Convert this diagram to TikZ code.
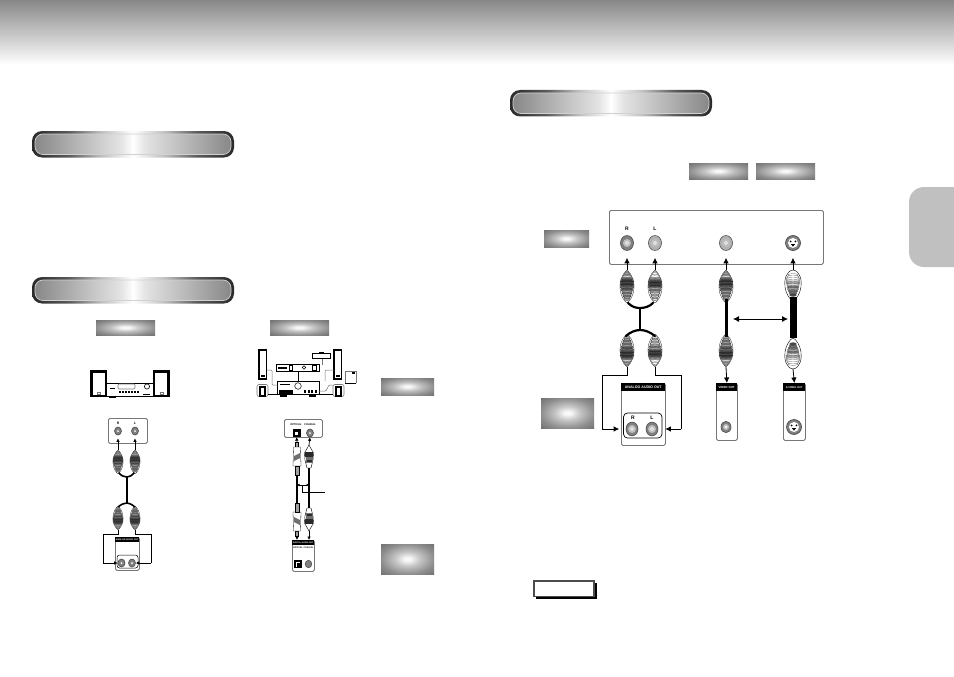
\documentclass[tikz,border=0pt]{standalone}
\usepackage{fontspec}
\setmainfont{Liberation Sans}
\usetikzlibrary{arrows.meta,shapes.geometric}
\definecolor{tabgray}{HTML}{C0C0C0}
\definecolor{hdrgray}{HTML}{888888}
\definecolor{pa}{HTML}{888888}\definecolor{pb}{HTML}{E4E4E4}
\definecolor{ra}{HTML}{2A2A2A}\definecolor{rb}{HTML}{5A5A5A}\definecolor{rc}{HTML}{BEBEBE}
\definecolor{ga}{HTML}{F8F8F8}\definecolor{gd}{HTML}{C4C4C4}\definecolor{gb}{HTML}{8E8E8E}\definecolor{gc}{HTML}{707070}
\definecolor{linegray}{HTML}{777777}
\definecolor{plugA}{HTML}{D8D8D8}\definecolor{plugB}{HTML}{A0A0A0}\definecolor{plugC}{HTML}{707070}\definecolor{plugD}{HTML}{484848}\definecolor{plugE}{HTML}{2A2A2A}
\pgfdeclarehorizontalshading{pillin}{100bp}{color(0bp)=(pa); color(25bp)=(pa); color(47bp)=(pb); color(50bp)=(white); color(53bp)=(pb); color(75bp)=(pa); color(100bp)=(pa)}
\pgfdeclarehorizontalshading{pillout}{100bp}{color(0bp)=(ra); color(25bp)=(ra); color(34bp)=(rb); color(42bp)=(rc); color(50bp)=(white); color(58bp)=(rc); color(66bp)=(rb); color(75bp)=(ra); color(100bp)=(ra)}
\pgfdeclareradialshading{glow}{\pgfpoint{0bp}{0bp}}{color(0bp)=(ga); color(3bp)=(ga); color(12bp)=(gd); color(25bp)=(gb); color(36bp)=(gc); color(50bp)=(gc)}
\tikzset{
  x=1pt,y=-1pt,
  swatch/.style={shading=glow},
  conn/.style={-{Latex[length=5.5pt,width=5.5pt]},line width=.8pt,black},
  tinyconn/.style={-{Latex[length=3.5pt,width=3.5pt]},line width=.6pt,black},
  dblconn/.style={{Latex[length=6pt,width=6pt]}-{Latex[length=6pt,width=6pt]},line width=.8pt,black},
  wire/.style={line width=.8pt,black},
  panel/.style={draw=linegray,line width=.8pt,fill=white,rounded corners=1.5pt,inner sep=0pt,anchor=north west},
  hdr/.style={fill=black,text=white,inner sep=0pt,anchor=north west,font=\fontsize{3.6}{4}\selectfont\bfseries},
  lab/.style={inner sep=0pt,font=\fontsize{3.4}{4}\selectfont\bfseries},
  lablarge/.style={inner sep=0pt,font=\fontsize{5}{5}\selectfont\bfseries},
  pill/.style={shading=pillout,rounded corners=10pt},
  pillinner/.style={shading=pillin,draw=white!82!black,line width=.7pt,rounded corners=8pt},
  portnode/.style={ellipse,draw=black!70,line width=.6pt,fill=black!50,inner sep=0pt,minimum width=#1,minimum height=1.15*#1},
  rca/.pic={
    \coordinate (-tip) at (0,0); \coordinate (-tail) at (0,33);
    \draw[line width=.25pt,fill=white] (0,0) .. controls (-5,4) and (-7.5,12) .. (-7,18) .. controls (-6.5,26) and (-3,31) .. (0,33) .. controls (3,31) and (6.5,26) .. (7,18) .. controls (7.5,12) and (5,4) .. (0,0) -- cycle;
    \foreach \yy/\rx/\cc in {2.5/2/plugB,4/3/plugB,5.5/4.2/plugB,7/5.2/plugA,8.5/6/plugC,10/6.6/plugD,11.5/7/plugE,13/7/plugD,14.5/7/plugE,16/7/plugD,17.5/6.8/plugC,19/6.4/plugD,20.5/6/plugC,22/5.5/plugB,23.5/5/plugC,25/4.5/plugB,26.5/4/plugC,28/3.2/plugB,29.5/2.4/plugB}
      \filldraw[draw=black!80,line width=.2pt,fill=\cc] (0,\yy) ellipse[x radius=\rx,y radius=1.2];
  },
  rcalight/.pic={
    \coordinate (-tip) at (0,0); \coordinate (-tail) at (0,33);
    \draw[line width=.25pt,fill=white] (0,0) .. controls (-5,4) and (-7.5,12) .. (-7,18) .. controls (-6.5,26) and (-3,31) .. (0,33) .. controls (3,31) and (6.5,26) .. (7,18) .. controls (7.5,12) and (5,4) .. (0,0) -- cycle;
    \foreach \yy/\rx/\cc in {2.5/2/plugA,4/3/white,5.5/4.2/white,7/5.2/white,8.5/6/plugB,10/6.6/plugC,11.5/7/plugD,13/7/plugE,14.5/7/plugD,16/7/plugE,17.5/6.8/plugC,19/6.4/plugB,20.5/6/plugC,22/5.5/plugB,23.5/5/plugA,25/4.5/plugB,26.5/4/plugA,28/3.2/plugB,29.5/2.4/plugA}
      \filldraw[draw=black!80,line width=.2pt,fill=\cc] (0,\yy) ellipse[x radius=\rx,y radius=1.2];
  },
  svid/.pic={
    \coordinate (-tip) at (0,0); \coordinate (-tail) at (0,31);
    \draw[line width=.4pt,fill=white] (0,0) .. controls (-7,1) and (-9,10) .. (-8,17) .. controls (-7,24) and (-3,30) .. (0,31) .. controls (3,30) and (7,24) .. (8,17) .. controls (9,10) and (7,1) .. (0,0) -- cycle;
    \foreach \yy/\rx/\cc in {5/5/white,7/6.5/white,9/7/white,11/7/plugA,13/7/plugB,15/6.5/plugA,17/6.2/plugC,19/5.8/plugB,21/5/plugC,23/4/plugC,25/3.5/plugD}
      \filldraw[draw=black!80,line width=.2pt,fill=\cc] (0,\yy) ellipse[x radius=\rx,y radius=1.4];
  },
  optplug/.pic={
    \coordinate (-tip) at (0,0); \coordinate (-tail) at (0,33);
    \draw[line width=.3pt,fill=plugB] (-1.5,0) rectangle (1.5,5);
    \draw[line width=.3pt,fill=white] (-3.5,5) -- (3.5,5) -- (4,24) -- (-4,24) -- cycle;
    \fill[plugC] (-3,14) -- (3,11) -- (3,16) -- (-3,19) -- cycle;
    \draw[line width=.3pt,fill=plugB] (-2,24) rectangle (2,33);
  },
  coaxplug/.pic={
    \coordinate (-tip) at (0,0); \coordinate (-tail) at (0,23);
    \draw[line width=.4pt,fill=white] (0,0) -- (-4.5,8) -- (-4,15) -- (-2,23) -- (2,23) -- (4,15) -- (4.5,8) -- cycle;
    \fill[plugE] (-4,7) rectangle (4,12);
    \fill[plugC] (-3.5,12) rectangle (3.5,18);
    \fill[plugE] (-2.5,15) rectangle (2.5,17);
  }
}
\newcommand{\jackdot}[1]{\fill[black!25] (#1.center) circle (4);\fill[white] (#1.center) circle (1.8);\fill[black!55] (#1.center) circle (.7);}
\newcommand{\svjack}[2]{%
  \node[circle,draw=black!75,fill=black!50,line width=.6pt,inner sep=0pt,minimum size=15pt] (#1) at (#2) {};
  \fill[white] (#1.center) circle (5);
  \fill[black] (#1.center) ++(-2.4,-1.6) circle (1) ++(4.8,0) circle (1);
  \fill[black] (#1.center) ++(-2.2,1) -- ++(4.4,0) -- ++(-2.2,2.6) -- cycle;}
\begin{document}
\begin{tikzpicture}
\useasboundingbox (0,0) rectangle (954,677);
\fill[white] (0,0) rectangle (954,677);
% header band and side tab
\shade[top color=hdrgray,bottom color=white] (0,0) rectangle (954,65);
\fill[tabgray] (954,187) [rounded corners=15pt] -- (909,187) -- (909,267) [sharp corners] -- (954,267) -- cycle;
% title pills
\foreach \xa/\ya in {32/131,32/277,510/90}{
  \shade[pill] (\xa,\ya) rectangle ++(202,26.5);
  \shadedraw[pillinner] (\xa+3,\ya+3) rectangle ++(196,20.5);
}
% label swatches
\foreach \xa/\ya/\xb/\yb in {96/320/155/335,270/320/329/335,381/378/434/395,381/544/434/574,544/230/589/247,541/398/594/428,689/163/748/179,756/163/815/179}
  \shade[swatch] (\xa,\ya) rectangle (\xb,\yb);
% note box
\fill[black] (536,583) rectangle (597,599);
\draw[draw=black!70,fill=white,line width=1.4pt] (534,581) rectangle (594,596.5);

%%% RIGHT BLOCK
\node[panel,minimum width=214pt,minimum height=54pt] (tv) at (609,210) {};
\node[lablarge] (lr) at (627,229) {R};
\node[lablarge] (ll) at (655,229) {L};
\node[portnode=13pt] (pR) at (627,243) {}; \jackdot{pR}
\node[portnode=13pt,fill=black!30] (pL) at (655,243) {}; \jackdot{pL}
\node[portnode=13pt,fill=black!30] (pV) at (726,243) {}; \jackdot{pV}
\svjack{pS}{793,243}
% upper plugs
\pic (uR) at (627,270) {rca};
\pic (uL) at (655,270) {rcalight};
\pic (uV) at (726,270) {rca};
\pic (uS) at (793,270) {svid};
% lower plugs
\pic[yscale=-1] (dR) at (627,367) {rca};
\pic[yscale=-1] (dL) at (655,367) {rcalight};
\pic[yscale=-1] (dV) at (726,367) {rca};
\pic[yscale=-1] (dS) at (793,369) {svid};
% Y cable
\coordinate (jt) at (640,308); \coordinate (jb) at (640,330);
\draw[line width=2.2pt,line cap=round] (628,303) .. controls (632,307) and (636,308) .. (jt) .. controls (644,308) and (649,307) .. (653,303);
\draw[line width=2.2pt] (jt) -- (jb);
\draw[line width=2.2pt,line cap=round] (626,336) .. controls (630,332) and (636,330) .. (jb) .. controls (645,330) and (650,332) .. (655,336);
\draw[line width=3pt] (726,299) -- (726,337);
\draw[line width=7pt] (793,297) -- (793,338);
% up arrows
\foreach \a/\b in {uR/pR,uL/pL,uV/pV,uS/pS}
  \draw[conn,shorten >=7pt] (\a-tip) -- (\b.south);
\draw[dblconn] (733,319) -- (788,319);
% output panels
\node[panel,minimum width=44pt,minimum height=62pt] (aout) at (621,383) {};
\node[hdr,minimum width=44pt,minimum height=8pt] (aouth) at (621,383) {ANALOG AUDIO OUT};
\draw[line width=.7pt,rounded corners=4pt] (623.5,413) rectangle (662,438);
\node[lablarge] (aR) at (633,418) {R};
\node[lablarge] (aL) at (652,418) {L};
\node[portnode=12pt] (paR) at (632,429) {}; \jackdot{paR}
\node[portnode=12pt] (paL) at (652,429) {}; \jackdot{paL}
\node[panel,minimum width=21pt,minimum height=57pt] (vout) at (716,383) {};
\node[hdr,minimum width=21pt,minimum height=8pt,font=\fontsize{2.9}{3}\selectfont\bfseries] (vouth) at (716,383) {VIDEO OUT};
\node[portnode=10pt] (pvo) at (726,427) {}; \fill[black!25] (pvo.center) circle (3); \fill[white] (pvo.center) circle (1.3);
\node[panel,minimum width=22pt,minimum height=57pt] (sout) at (783,383) {};
\node[hdr,minimum width=22pt,minimum height=8pt,font=\fontsize{2.6}{3}\selectfont\bfseries] (south) at (783,383) {S-VIDEO OUT};
\svjack{pso}{794,427}
\draw[conn] (dV-tip) -- (vout.north);
\draw[conn] (dS-tip) -- (sout.north);
\draw[wire] (dR-tip) -- (627,375) -- (602,375) -- (602,429);
\draw[conn] (602,429) -- ([xshift=-6.5pt]paR.west);
\draw[wire] (dL-tip) -- (655,375) -- (681,375) -- (681,429);
\draw[conn] (681,429) -- ([xshift=7pt]paL.east);

%%% LEFT BLOCK: stereo
\draw[line width=2.6pt,fill=white] (91.5,371.5) rectangle (106,396);
\draw[line width=2.6pt,fill=white] (154,371.5) rectangle (168.5,396);
\draw[linegray,line width=.5pt] (97,392.5) rectangle (100,394);
\draw[linegray,line width=.5pt] (160,392.5) rectangle (163,394);
\draw[line width=.7pt] (107,383) -- (153,383);
\draw[line width=.7pt] (107,396) -- (153,396);
\draw[linegray,line width=.7pt,rounded corners=1pt] (118,384) rectangle (135,389);
\draw[line width=.6pt] (147,386.5) circle (2.6);
\fill[black] (110,387.5) rectangle (115,389);
\foreach \xb in {119,122,125,128,131,134,137} \fill[black] (\xb,391) rectangle ++(2,2.4);
\fill[black] (143,393.5) rectangle (150,394.5);
\fill[black] (109,396) rectangle (116,397.5);
% stereo connection
\node[panel,minimum width=39pt,minimum height=25pt] (st) at (108,418) {};
\node[lab] (stR) at (118,423) {R};
\node[lab] (stL) at (135,423) {L};
\node[portnode=7pt] (sR) at (118,431) {}; \fill[white] (sR.center) circle (1);
\node[portnode=7pt] (sL) at (135,431) {}; \fill[white] (sL.center) circle (1);
\pic[scale=.72] (suR) at (118,450) {rca};
\pic[scale=.72] (suL) at (135,450) {rca};
\pic[xscale=.72,yscale=-.72] (sdR) at (118,530) {rca};
\pic[xscale=.72,yscale=-.72] (sdL) at (135,530) {rca};
\coordinate (sjt) at (127,477); \coordinate (sjb) at (127,503);
\draw[line width=1.6pt,line cap=round] (119,473) .. controls (122,476) .. (sjt) .. controls (131,476) .. (134,473);
\draw[line width=1.6pt] (sjt) -- (sjb);
\draw[line width=1.6pt,line cap=round] (118,507) .. controls (122,504) .. (sjb) .. controls (131,504) .. (135,507);
\draw[tinyconn,shorten >=3pt] (suR-tip) -- (sR.south);
\draw[tinyconn,shorten >=3pt] (suL-tip) -- (sL.south);
\node[panel,minimum width=24pt,minimum height=33pt] (sa) at (115,537) {};
\node[hdr,minimum width=24pt,minimum height=4.5pt,font=\fontsize{2.2}{3}\selectfont\bfseries] (sah) at (115,537) {ANALOG AUDIO OUT};
\draw[line width=.5pt,rounded corners=2.5pt] (117,555) rectangle (138,568);
\node[portnode=7pt] (saR) at (121.5,563) {}; \fill[white] (saR.center) circle (1);
\node[portnode=7pt] (saL) at (132,563) {}; \fill[white] (saL.center) circle (1);
\draw[wire,line width=.6pt] (sdR-tip) -- (118,534) -- (103,534) -- (103,563);
\draw[tinyconn] (103,563) -- (saR.west);
\draw[wire,line width=.6pt] (sdL-tip) -- (135,534) -- (151,534) -- (151,563);
\draw[tinyconn] (151,563) -- (saL.east);

%%% HOME THEATRE
\draw[line width=1.8pt,fill=white] (259,350) rectangle (266.5,379);
\draw[line width=1.8pt,fill=white] (334,350) rectangle (341.5,379);
\fill[black] (261,375) rectangle (264.5,376.5);
\fill[black] (336,375) rectangle (339.5,376.5);
\draw[linegray,line width=.6pt,rounded corners=2pt] (257,384.5) rectangle (268,396.5);
\draw[linegray,line width=.6pt,rounded corners=2pt] (333,384.5) rectangle (344,396.5);
\draw[line width=1.4pt,fill=white] (260,387) rectangle (265,396);
\draw[line width=1.4pt,fill=white] (336,387) rectangle (341,396);
\draw[line width=.9pt,fill=white] (312.5,353.5) rectangle (330,358.5);
\fill[black] (319,352) rectangle (324,353.5);
\draw[line width=.9pt,fill=white] (276.5,364.5) rectangle (319,371);
\fill[black] (278,366.5) rectangle (287,369);
\draw[line width=.4pt] (289,365.5) rectangle (292,370);
\draw[line width=.5pt] (304,367.5) circle (1.8);
\draw[line width=.5pt] (312,365.5) rectangle (316,370);
\draw[line width=.9pt,fill=white] (277.5,381) rectangle (319,394.5);
\fill[black] (280,383.5) rectangle (290,384.5);
\draw[line width=.5pt] (298,386) circle (3.3);
\fill[black] (279,390) rectangle (293,393.5);
\foreach \xb in {304,307.5,311,314.5} \fill[black] (\xb,389.5) rectangle ++(2.2,3.5);
\fill[black] (280,394.5) rectangle (287,396.5);
\fill[black] (309,394.5) rectangle (316,396.5);
\draw[line width=.6pt] (298,371) -- (298,381);
\draw[linegray,line width=.5pt] (322,358.5) -- (322,364.5);
\draw[linegray,line width=.5pt,rounded corners=1pt] (267,370) -- (272,370) -- (272,385) -- (277.5,385);
\draw[linegray,line width=.5pt,rounded corners=1pt] (334,370) -- (325,370) -- (325,381);
\draw[linegray,line width=.5pt,rounded corners=1pt] (319,391) -- (326,391) -- (329,385) -- (333,385);
\draw[line width=.6pt] (268,394) -- (277.5,394);
\draw[line width=.6pt] (319,394) -- (333,394);
\draw[linegray,line width=.5pt] (345,383) |- (356,371);
\draw[linegray,line width=.5pt] (356,371) -- (356,383);
\draw[line width=.6pt] (345,383) -- (356,383);
\fill[black] (352,372) rectangle (355,374);
% digital connection
\node[panel,minimum width=38pt,minimum height=18pt] (dg) at (284,419) {};
\node[lab,font=\fontsize{2.6}{3}\selectfont\bfseries] (dgo) at (296,425) {OPTICAL};
\node[lab,font=\fontsize{2.6}{3}\selectfont\bfseries] (dgc) at (310,425) {COAXIAL};
\node[fill=black,inner sep=0pt,minimum size=8pt] (oT) at (296.5,433) {}; \fill[white] (295,431.5) rectangle (298,434.5);
\node[portnode=7pt] (cT) at (310,433) {}; \fill[white] (cT.center) circle (1);
\pic (oU) at (297,442) {optplug};
\pic (cU) at (309,445) {coaxplug};
\pic[yscale=-1] (oD) at (297,536) {optplug};
\pic[yscale=-1] (cD) at (309,531) {coaxplug};
\draw[line width=1.8pt] (oU-tail) -- (oD-tail);
\draw[line width=1.8pt] (cU-tail) -- (cD-tail);
\draw[tinyconn] (oU-tip) -- (oT.south);
\draw[tinyconn] (cU-tip) -- (cT.south);
\coordinate (co) at (297,485); \coordinate (cc) at (309,485); \coordinate (cm) at (302,485); \coordinate (cq) at (325,492);
\draw[{Latex[length=2.5pt,width=2.5pt]}-{Latex[length=2.5pt,width=2.5pt]},line width=.6pt] (co) -- (cc);
\draw[line width=.8pt] (cm) |- (cq);
\node[panel,minimum width=22pt,minimum height=31pt] (dgb) at (292,540) {};
\node[hdr,minimum width=22pt,minimum height=5pt,font=\fontsize{2.1}{3}\selectfont\bfseries] (dgbh) at (292,540) {DIGITAL AUDIO OUT};
\node[lab,font=\fontsize{2.2}{3}\selectfont\bfseries] (dgbo) at (298,547.5) {OPTICAL};
\node[lab,font=\fontsize{2.2}{3}\selectfont\bfseries] (dgbc) at (308.5,547.5) {COAXIAL};
\node[fill=black,inner sep=0pt,minimum size=8pt] (oB) at (298,564) {}; \fill[white] (295.5,561.5) rectangle (300,566.5); \fill[black] (297,563) rectangle (300,566.5);
\node[portnode=6.5pt] (cB) at (308.5,564) {};
\draw[tinyconn] (oD-tip) -- (dgb.north -| oD-tip);
\draw[tinyconn] (cD-tip) -- (dgb.north -| cD-tip);
\end{tikzpicture}
\end{document}
